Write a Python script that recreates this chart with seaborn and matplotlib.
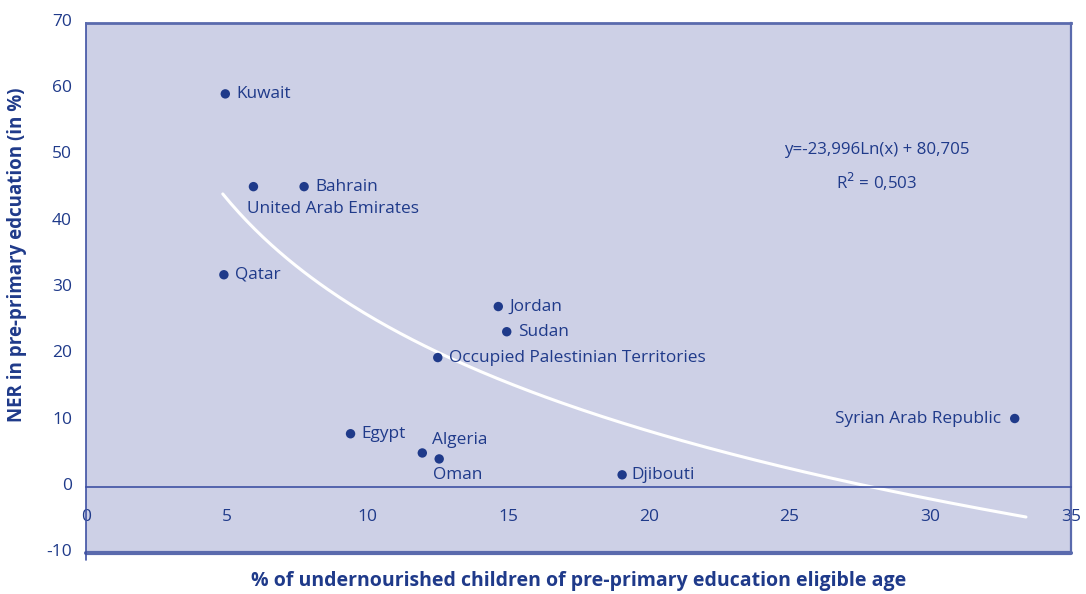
import matplotlib
matplotlib.use("Agg")
import matplotlib.pyplot as plt
import matplotlib.transforms as mtransforms
import numpy as np
import pandas as pd
import seaborn as sns

# ─── Data ───────────────────────────────────────────────────────────────────
countries = ["Kuwait", "United Arab Emirates", "Bahrain", "Qatar", "Jordan",
             "Sudan", "Occupied Palestinian Territories", "Syrian Arab Republic",
             "Egypt", "Algeria", "Oman", "Djibouti"]
undernourished = [4.95, 5.95, 7.75, 4.9, 14.65, 14.95, 12.5, 33.0,
                  9.4, 11.95, 12.55, 19.05]
ner = [59.3, 45.3, 45.3, 32.0, 27.2, 23.4, 19.5, 10.3, 8.0, 5.1, 4.2, 1.8]

# logarithmic trend line as it is drawn in the picture
trend_x_range = [4.86, 33.4]
trend_coef = [-25.3, 84.2]          # y = a * ln(x) + b
equation_text = "y=-23,996Ln(x) + 80,705"
r2_text = "R$^2$ = 0,503"

# label offsets in pixels (dx, dy) and horizontal alignment
label_offsets = {
    "United Arab Emirates": (-6, -22, "left"),
    "Syrian Arab Republic": (-14, 0, "right"),
    "Algeria": (10, 13, "left"),
    "Oman": (-6, -16, "left"),
    "Djibouti": (9, 0, "left"),
}

NAVY = "#1f3a8a"
AXIS = "#3f51a3"
FRAME = "#5a6aad"
BG = "#cdd0e6"

df = pd.DataFrame({"country": countries, "x": undernourished, "y": ner})
tx = np.linspace(trend_x_range[0], trend_x_range[1], 200)
trend = pd.DataFrame({"x": tx, "y": trend_coef[0] * np.log(tx) + trend_coef[1]})

sns.set_style("white")
plt.rcParams["font.family"] = ["Open Sans", "DejaVu Sans"]
plt.rcParams["axes.unicode_minus"] = False

fig = plt.figure(figsize=(10.86, 5.94), dpi=100)
ax = fig.add_axes([86 / 1086, 1 - 553 / 594, 985 / 1086, 530 / 594])
ax.set_facecolor(BG)

sns.lineplot(data=trend, x="x", y="y", color="white", lw=2.2, ax=ax)
sns.scatterplot(data=df, x="x", y="y", color=NAVY, s=46, edgecolor="none",
                ax=ax, zorder=5)

for c, xv, yv in zip(countries, undernourished, ner):
    dx, dy, ha = label_offsets.get(c, (11, 0, "left"))
    ax.annotate(c, (xv, yv), xytext=(dx * 0.72, dy * 0.72),
                textcoords="offset points", ha=ha, va="center",
                fontsize=12.4, color=NAVY)

ax.text(28.1, 50.8, equation_text, ha="center", va="center",
        fontsize=12.2, color=NAVY)
ax.text(28.1, 46.0, r2_text, ha="center", va="center",
        fontsize=12.2, color=NAVY)

ax.set_xlim(0, 35)
ax.set_ylim(-10, 70)
ax.set_xticks(range(0, 36, 5))
ax.set_yticks(range(-10, 71, 10))

for s in ax.spines.values():
    s.set_color(AXIS)
    s.set_linewidth(1.2)
ax.spines["bottom"].set_position(("data", 0))
ax.spines["top"].set_color(FRAME)
ax.spines["top"].set_linewidth(2)
ax.spines["right"].set_color(FRAME)
ax.spines["right"].set_linewidth(1.6)
ax.axhline(-10, color=FRAME, lw=3, clip_on=False)
ax.axvline(0, ymin=-0.014, ymax=0, color=AXIS, lw=1.2, clip_on=False)

ax.tick_params(axis="x", direction="out", length=7, width=1.2, colors=AXIS,
               labelcolor=NAVY, labelsize=12.5, pad=9)
ax.tick_params(axis="y", direction="out", length=6, width=1.2, colors=AXIS,
               labelcolor=NAVY, labelsize=12.5, pad=4)
shift = mtransforms.ScaledTranslation(0, 3 / 100, fig.dpi_scale_trans)
for lab in ax.get_yticklabels():
    lab.set_transform(lab.get_transform() + shift)

ax.set_xlabel("% of undernourished children of pre-primary education eligible age",
              fontsize=14, fontweight="bold", color=NAVY)
ax.set_ylabel("NER in pre-primary edcuation (in %)",
              fontsize=13.5, fontweight="bold", color=NAVY)
ax.xaxis.set_label_coords(0.5, -0.034)
ax.yaxis.set_label_coords(-0.060, 0.562)

fig.savefig("out.png", dpi=100)
